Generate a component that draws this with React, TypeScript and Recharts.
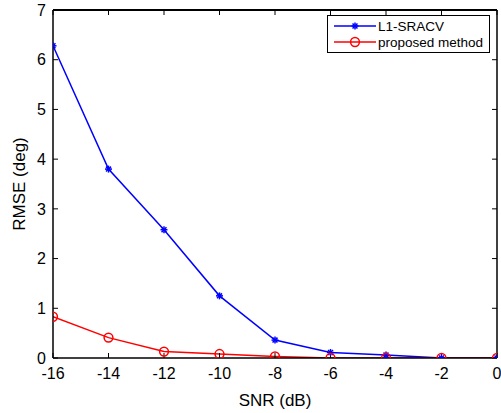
import React from 'react';
import { LineChart, Line, XAxis, YAxis } from 'recharts';

const snr = [-16, -14, -12, -10, -8, -6, -4, -2, 0];
const l1Sracv = [6.28, 3.8, 2.58, 1.25, 0.36, 0.11, 0.06, 0.0, 0.0];
const proposed = [0.83, 0.41, 0.13, 0.08, 0.03, 0.0, 0.0, 0.0, 0.0];
const xTicks = [-16, -14, -12, -10, -8, -6, -4, -2, 0];
const yTicks = [0, 1, 2, 3, 4, 5, 6, 7];

const data = snr.map((s, i) => ({ snr: s, l1: l1Sracv[i], prop: proposed[i] }));

const FONT = '"Liberation Sans", Arial, Helvetica, sans-serif';

const StarDot = (props: any) => {
  const { cx, cy } = props;
  if (cx == null || cy == null) return null;
  const r = 3.5;
  const d = r * 0.707;
  return (
    <g stroke="#0000ff" strokeWidth={1.5}>
      <line x1={cx - r} y1={cy} x2={cx + r} y2={cy} />
      <line x1={cx} y1={cy - r} x2={cx} y2={cy + r} />
      <line x1={cx - d} y1={cy - d} x2={cx + d} y2={cy + d} />
      <line x1={cx - d} y1={cy + d} x2={cx + d} y2={cy - d} />
    </g>
  );
};

const CircleDot = (props: any) => {
  const { cx, cy } = props;
  if (cx == null || cy == null) return null;
  return <circle cx={cx} cy={cy} r={4.4} stroke="#ff0000" strokeWidth={1.5} fill="none" />;
};

const LegendBox = () => (
  <div
    style={{
      position: 'absolute',
      left: 327,
      top: 15,
      border: '1.5px solid #000',
      background: '#fff',
      width: 163,
      height: 38,
      boxSizing: 'border-box',
    }}
  >
    <svg width={160} height={35} style={{ display: 'block' }}>
      <line x1={6} y1={10} x2={48} y2={10} stroke="#0000ff" strokeWidth={1.5} />
      <StarDot cx={27} cy={10} />
      <text x={50} y={14.5} fontFamily={FONT} fontSize={13.5} fill="#000">L1-SRACV</text>
      <line x1={6} y1={26} x2={48} y2={26} stroke="#ff0000" strokeWidth={1.5} />
      <CircleDot cx={27} cy={26} />
      <text x={50} y={30.5} fontFamily={FONT} fontSize={13.5} fill="#000">proposed method</text>
    </svg>
  </div>
);

const YLabel = (props: any) => {
  const { viewBox } = props;
  const cy = viewBox.y + viewBox.height / 2;
  const x = 25;
  return (
    <text
      x={x}
      y={cy}
      transform={`rotate(-90, ${x}, ${cy})`}
      textAnchor="middle"
      fontFamily={FONT}
      fontSize={17}
      fill="#000"
    >
      RMSE (deg)
    </text>
  );
};

const NoTick = () => <g />;

export default function App() {
  return (
    <div style={{ position: 'absolute', left: 0, top: 0, width: 501, height: 413, background: '#fff' }}>
      <LineChart
        width={501}
        height={413}
        data={data}
        margin={{ top: 9, right: 3, bottom: 0, left: 0 }}
      >
        <XAxis
          dataKey="snr"
          type="number"
          domain={[-16, 0]}
          ticks={xTicks}
          height={55}
          stroke="#000"
          strokeWidth={1.5}
          tickSize={-5}
          tickMargin={15}
          tick={{ fill: '#000', fontSize: 16, fontFamily: FONT }}
          tickLine={{ stroke: '#000', strokeWidth: 1 }}
          allowDataOverflow
          label={{ value: 'SNR (dB)', position: 'insideBottom', offset: 7, fill: '#000', fontSize: 17, fontFamily: FONT }}
        />
        <XAxis
          xAxisId="top"
          dataKey="snr"
          orientation="top"
          type="number"
          domain={[-16, 0]}
          ticks={xTicks}
          height={1}
          stroke="#000"
          strokeWidth={2}
          tickSize={-5}
          tick={NoTick}
          tickLine={{ stroke: '#000', strokeWidth: 1 }}
          allowDataOverflow
        />
        <YAxis
          type="number"
          domain={[0, 7]}
          ticks={yTicks}
          width={53}
          stroke="#000"
          strokeWidth={1.5}
          tickSize={-5}
          tickMargin={12}
          tick={{ fill: '#000', fontSize: 16, fontFamily: FONT }}
          tickLine={{ stroke: '#000', strokeWidth: 1 }}
          allowDataOverflow
          label={<YLabel />}
        />
        <YAxis
          yAxisId="right"
          orientation="right"
          type="number"
          domain={[0, 7]}
          ticks={yTicks}
          width={1}
          stroke="#000"
          strokeWidth={1.5}
          tickSize={-5}
          tick={NoTick}
          tickLine={{ stroke: '#000', strokeWidth: 1 }}
          allowDataOverflow
        />
        <Line
          xAxisId="top"
          yAxisId="right"
          dataKey="prop"
          stroke="none"
          dot={false}
          activeDot={false}
          legendType="none"
          isAnimationActive={false}
        />
        <Line
          dataKey="l1"
          stroke="#0000ff"
          strokeWidth={1.5}
          dot={<StarDot />}
          isAnimationActive={false}
        />
        <Line
          dataKey="prop"
          stroke="#ff0000"
          strokeWidth={1.5}
          dot={<CircleDot />}
          isAnimationActive={false}
        />
      </LineChart>
      <LegendBox />
    </div>
  );
}
